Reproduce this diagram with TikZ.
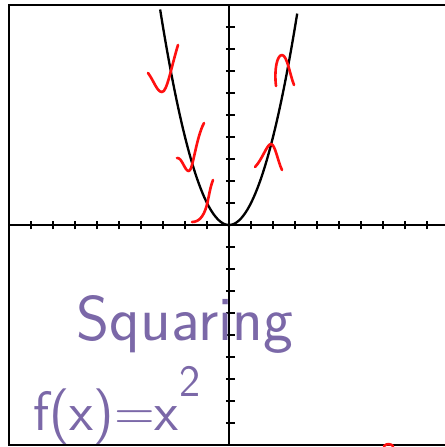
\documentclass[tikz,border=0pt]{standalone}
\usetikzlibrary{positioning}
\definecolor{Pen}{HTML}{FF1010}
\definecolor{Ink}{HTML}{7B68A8}

\begin{document}
\begin{tikzpicture}[line width=3pt,
    frame/.style={draw=black,line width=3pt},
    tickmark/.style={line width=2.6pt},
    redpen/.style={draw=Pen,line width=3.4pt,line cap=round,line join=round},
    hand/.style={text=Ink,inner sep=0pt,font=\sffamily\fontsize{82}{84}\selectfont}]
  \useasboundingbox (-10.409,-10.091) rectangle (9.773,10.227);
  % frame and axes
  \draw[frame] (10.5,10) -| (-10,-10) -- (10.5,-10);
  \draw (-10,0) -- (10.5,0);
  \draw (0,-10) -- (0,10);
  \foreach \i in {-9,...,-1,1,2,...,9}{
    \draw[tickmark] (\i,-0.2) -- (\i,0.2);
    \draw[tickmark] (-0.14,\i) -- (0.27,\i);
  }
  % the parabola
  \draw[domain=-3.13:3.1,samples=60,smooth] plot (\x,{\x*\x});
  % red pen marks, in pixel coordinates
  \begin{scope}[shift={(-10.409,10.227)},x=0.04545cm,y=-0.04545cm]
    \draw[redpen] (148,73) .. controls (154,81) and (157,92) .. (162,92)
      .. controls (167,92) and (171,68) .. (178,45);
    \draw[redpen] (177,158) .. controls (182,157) and (185,172) .. (189,171)
      .. controls (193,170) and (196,138) .. (204,123);
    \draw[redpen] (192,222) .. controls (200,222) and (205,215) .. (208,200)
      .. controls (210,190) and (211,185) .. (213,180);
    \draw[redpen] (276,86) .. controls (274,70) and (277,55) .. (282,55)
      .. controls (287,55) and (290,75) .. (294,85);
    \draw[redpen] (255,167) .. controls (262,160) and (267,144) .. (271,144)
      .. controls (275,144) and (278,162) .. (282,170);
    \draw[redpen] (384,446) .. controls (387,443) and (391,444) .. (393,446);
  \end{scope}
  % handwriting
  \node[hand,anchor=base] (title) at (-2,-5.23) {Squaring};
  \node[hand,anchor=base west,font=\sffamily\fontsize{72}{74}\selectfont]
    (formula) at (-8.95,-9.35)
    {f(x)=x\kern0.02em\raisebox{0.62em}{\fontsize{58}{60}\selectfont 2}};
\end{tikzpicture}
\end{document}
